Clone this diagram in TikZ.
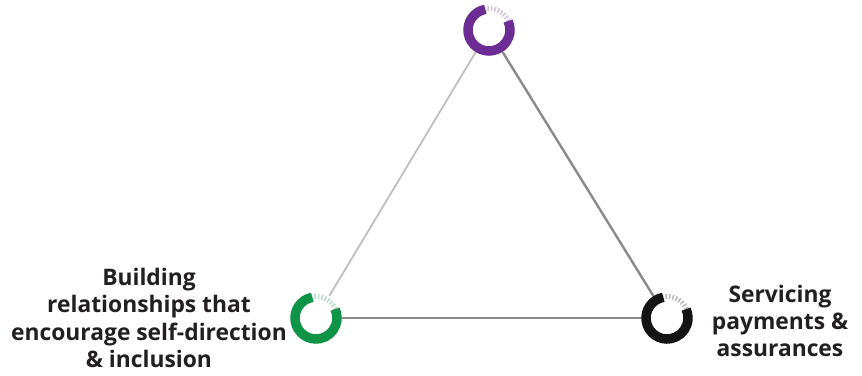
\documentclass[tikz,border=0pt]{standalone}
\usepackage{fontspec}
\setmainfont{Open Sans}
\definecolor{ringpurple}{HTML}{6B2D94}
\definecolor{ringgreen}{HTML}{0E9447}
\definecolor{ringblack}{HTML}{141414}
\definecolor{linegray}{HTML}{8A8A8A}
\definecolor{textdark}{HTML}{231F20}
\begin{document}
\begin{tikzpicture}[x=1pt,y=1pt,
  hub/.style={circle,inner sep=0pt,minimum size=52pt},
  edge/.style={draw=linegray,line width=2.4pt,line cap=round},
  faint/.style={draw=linegray!55,line width=1.8pt,line cap=round},
  label/.style={align=center,font=\bfseries\fontsize{22.8}{27.2}\selectfont,text=textdark,inner sep=0pt}]
\useasboundingbox (0,0) rectangle (862,375);
\node[hub] (p) at (489,345) {};
\node[hub] (g) at (316,57) {};
\node[hub] (b) at (667,57) {};
% connectors
\draw[faint] (p) -- (g);
\draw[edge] (p) -- (b);
\draw[edge] (g) -- (b);
% rings
\foreach \n/\c in {p/ringpurple,g/ringgreen,b/ringblack}{
  \draw[\c,line width=9.5pt] (\n.center) ++(100:21) arc[start angle=100,end angle=385,radius=21];
  \draw[\c,opacity=0.3,line width=5pt,dash pattern=on 1.5pt off 2pt] (\n.center) ++(25:21.5) arc[start angle=25,end angle=100,radius=21.5];
}
% labels
\node[label] (lg) at (149,57) {Building\\relationships that\\encourage self-direction\\\& inclusion};
\node[label] (lb) at (780,54) {Servicing\\payments \&\\assurances};
\end{tikzpicture}
\end{document}
